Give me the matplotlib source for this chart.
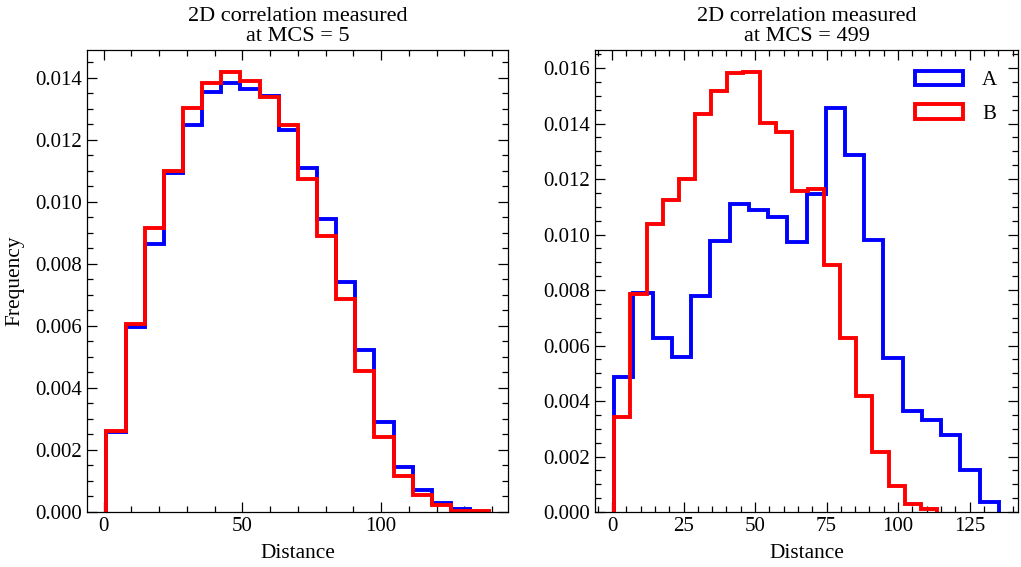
import numpy as np
import matplotlib
matplotlib.use("Agg")
import matplotlib.pyplot as plt
from matplotlib.ticker import AutoMinorLocator

plt.rcParams['font.family'] = 'serif'
plt.rcParams['font.serif'] = ['Liberation Serif', 'DejaVu Serif']
plt.rcParams['font.size'] = 15

# bins of each histogram (20 bins over the data range)
bins_5 = (1.0, 139.0)
bins_499_a = (0.8, 135.2)
bins_499_b = (0.8, 113.6)

# densities, MCS = 5
freq_5_a = [0.00259, 0.00596, 0.00865, 0.01093, 0.01248, 0.01353, 0.01383,
            0.01364, 0.01342, 0.01232, 0.01108, 0.00945, 0.00743, 0.00523,
            0.00291, 0.00146, 0.00071, 0.00030, 0.00009, 0.0]
freq_5_b = [0.00261, 0.00606, 0.00917, 0.01101, 0.01304, 0.01385, 0.01419,
            0.01390, 0.01339, 0.01247, 0.01075, 0.00891, 0.00686, 0.00456,
            0.00243, 0.00116, 0.00054, 0.00022, 0.00004, 0.00004]

# MCS = 499
freq_499_a = [0.00485, 0.00790, 0.00629, 0.00560, 0.00778, 0.00978, 0.01110,
              0.01088, 0.01064, 0.00973, 0.01148, 0.01457, 0.01286, 0.00980,
              0.00554, 0.00364, 0.00332, 0.00277, 0.00151, 0.00035]
freq_499_b = [0.00344, 0.00786, 0.01038, 0.01124, 0.01201, 0.01433, 0.01518,
              0.01581, 0.01586, 0.01401, 0.01368, 0.01158, 0.01163, 0.00890,
              0.00626, 0.00419, 0.00217, 0.00095, 0.00029, 0.00010]

labels = ["A", "B"]
colores = ["#0000ff", "#ff0000"]


def histo(ax, rango, valores, color, label):
    edges = np.linspace(rango[0], rango[1], len(valores) + 1)
    ax.hist(edges[:-1], bins=edges, weights=valores, histtype="step",
            color=color, lw=2.8, label=label)


def estilo(ax, titulo):
    ax.set_title(titulo, fontsize=16, linespacing=1.05, pad=6.5)
    ax.set_xlabel("Distance", fontsize=15.4, labelpad=5.5)
    ax.xaxis.set_minor_locator(AutoMinorLocator(5))
    ax.yaxis.set_minor_locator(AutoMinorLocator(4))
    ax.tick_params(which="both", direction="in", top=True, right=True,
                   labelsize=15)
    ax.tick_params(which="major", length=7.5, width=0.9)
    ax.tick_params(which="minor", length=4, width=0.9)
    for s in ax.spines.values():
        s.set_linewidth(0.9)


fig = plt.figure(figsize=(10.21, 5.67), dpi=100)
ax1 = fig.add_axes([0.0855, 0.0970, 0.4125, 0.8148])
ax2 = fig.add_axes([0.5828, 0.0970, 0.4143, 0.8148])

histo(ax1, bins_5, freq_5_a, colores[0], labels[0])
histo(ax1, bins_5, freq_5_b, colores[1], labels[1])
estilo(ax1, "2D correlation measured\nat MCS = 5")
ax1.set_ylabel("Frequency", fontsize=15.4, labelpad=8)

histo(ax2, bins_499_a, freq_499_a, colores[0], labels[0])
histo(ax2, bins_499_b, freq_499_b, colores[1], labels[1])
estilo(ax2, "2D correlation measured\nat MCS = 499")
ax2.legend(frameon=False, loc="upper right", handlelength=2.3,
           handleheight=0.7, handletextpad=0.9, labelspacing=0.65,
           borderaxespad=0.6)

fig.savefig("out.png", dpi=100)
